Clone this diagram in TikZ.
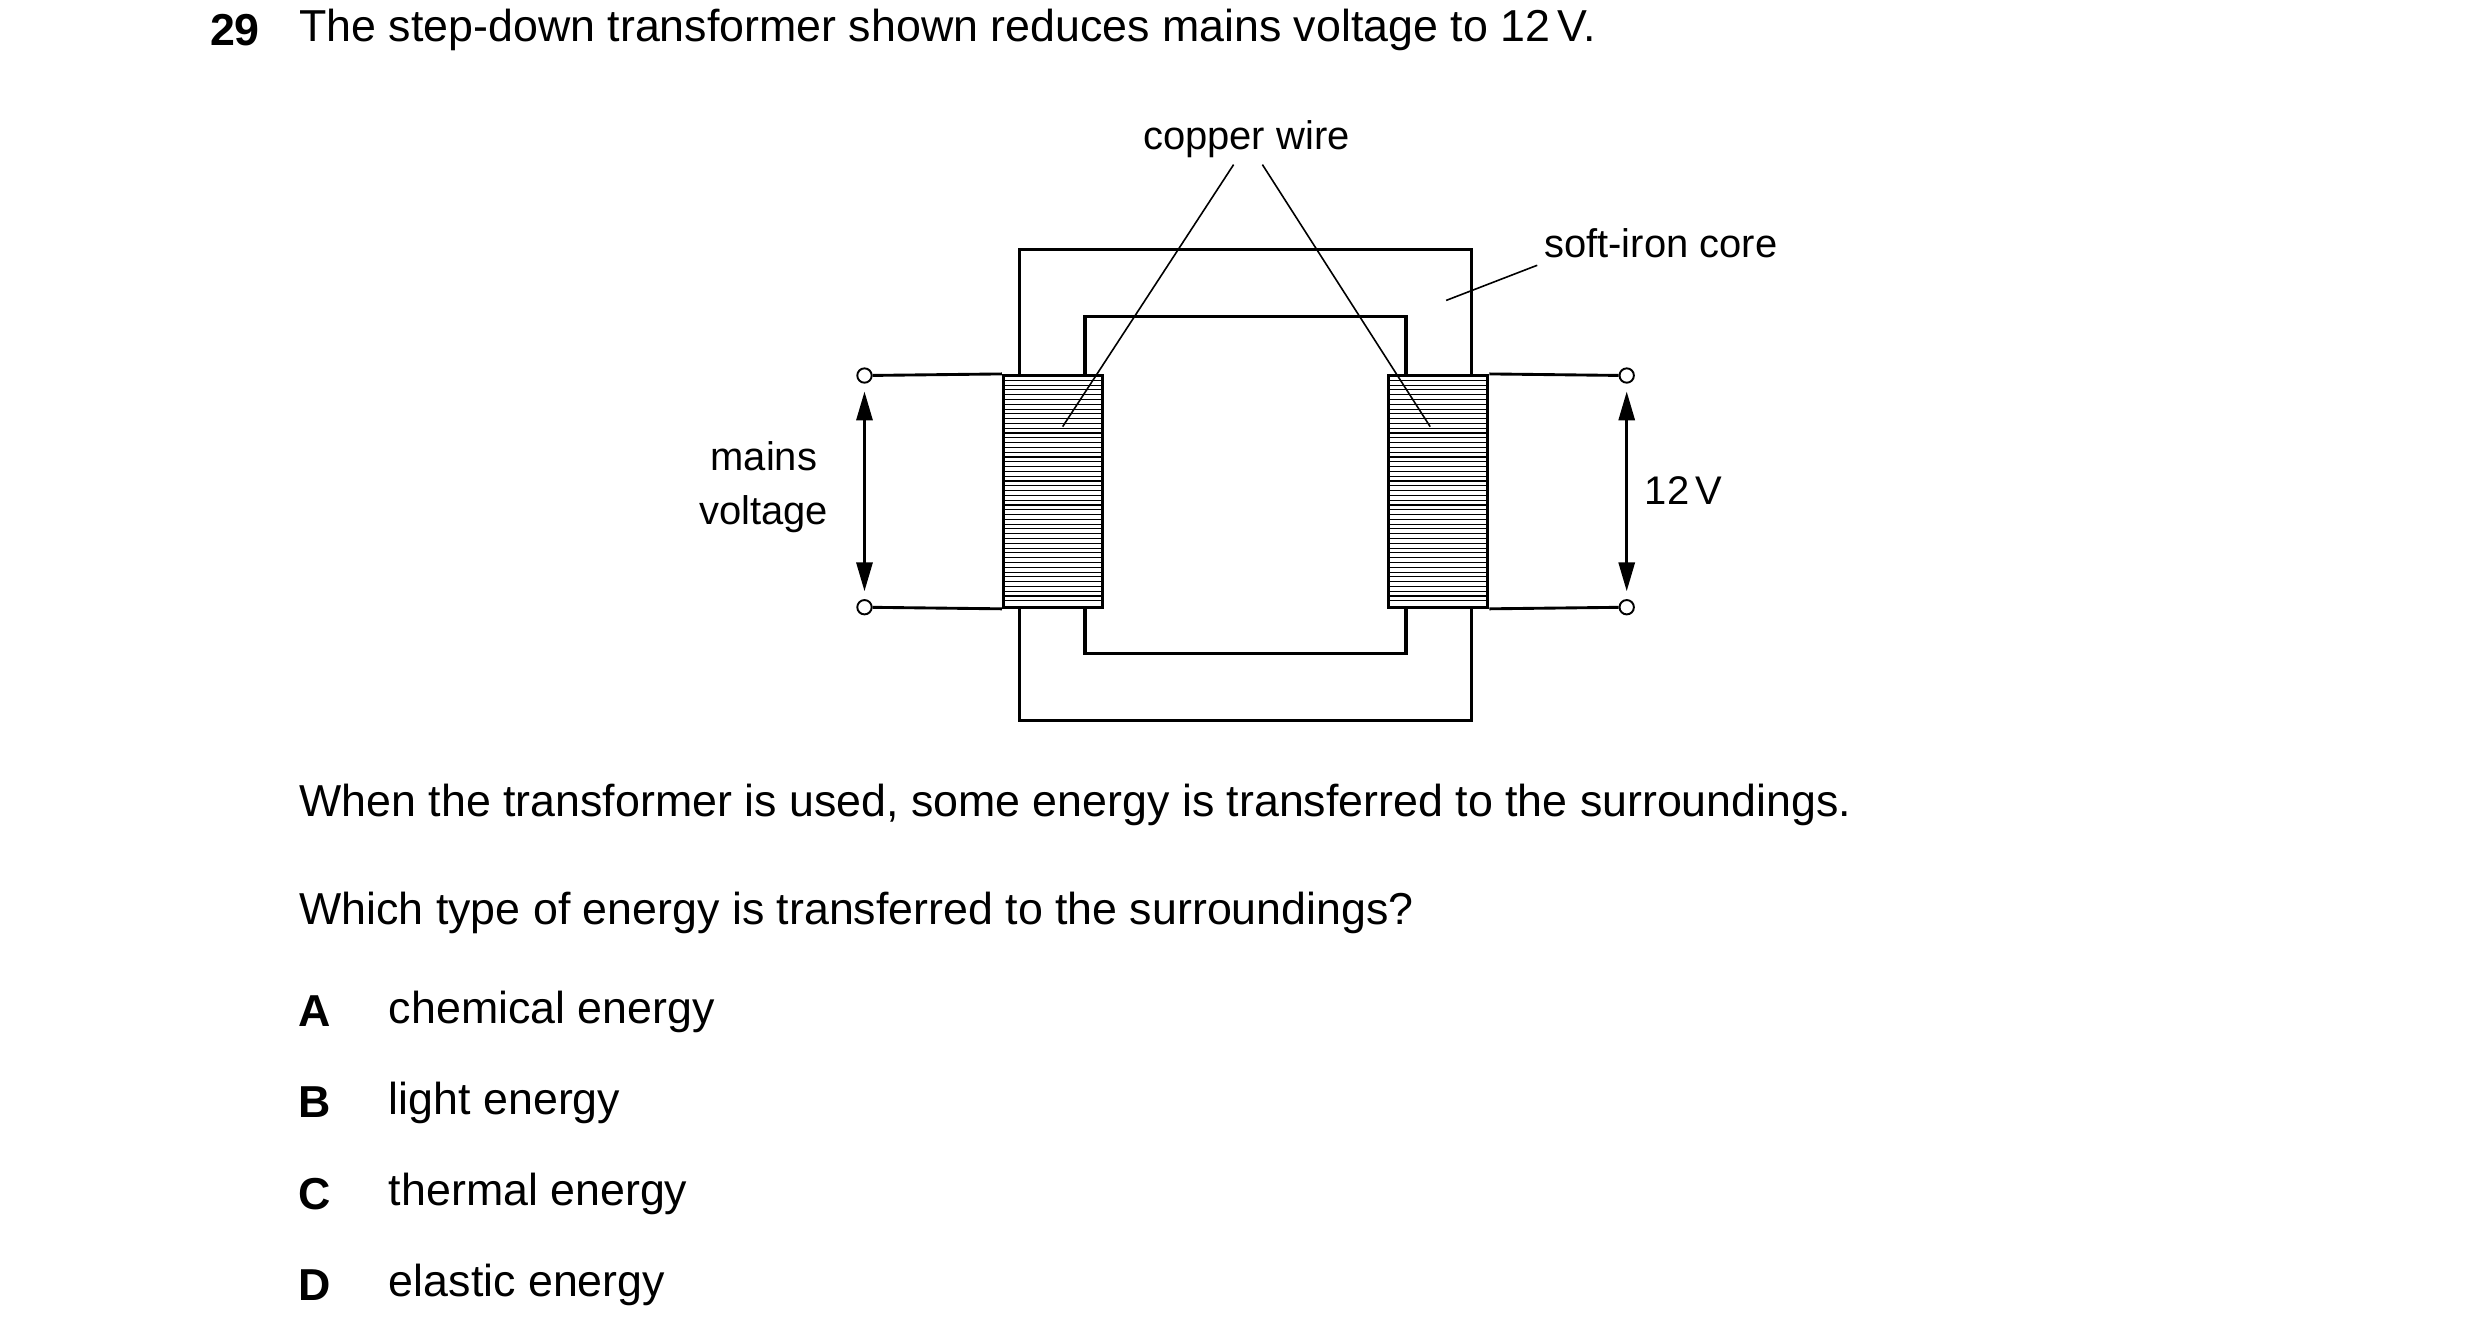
\documentclass[tikz,border=0pt]{standalone}
\usepackage{fontspec}
\setmainfont{Liberation Sans}
\usetikzlibrary{positioning,arrows.meta}
\tikzset{
  txt/.style={inner sep=0pt,font=\fontsize{14pt}{16pt}\selectfont},
  lbl/.style={inner sep=0pt,font=\fontsize{12.5pt}{15pt}\selectfont},
  coil/.style={draw,line width=1pt,minimum width=31pt,minimum height=72.5pt,inner sep=0pt},
  term/.style={circle,draw,line width=0.6pt,fill=white,minimum size=4.5pt,inner sep=0pt},
  wire/.style={line width=0.9pt},
  volt/.style={line width=0.9pt,{Triangle[length=9pt,width=5pt]}-{Triangle[length=9pt,width=5pt]}},
  lead/.style={line width=0.5pt}
}
\begin{document}
\begin{tikzpicture}[x=0.5pt,y=-0.5pt]
\useasboundingbox (0,0) rectangle (1552,836);
% question
\node[txt,anchor=east] (num) at (163,19) {\textbf{29}};
\node[txt,anchor=west] (q) at (187,19) {The step-down transformer shown reduces mains voltage to 12\,V.};
% soft-iron core
\draw[line width=1.1pt] (638,156) rectangle (921,451);
\draw[line width=1.1pt] (679,198) rectangle (880,409);
% coils
\node[coil,fill=white] (lcoil) at (659,307.5) {};
\node[coil,fill=white] (rcoil) at (900,307.5) {};
\foreach \y in {238,241,...,378} {
  \draw[line width=0.35pt] (628,\y) -- (690,\y);
  \draw[line width=0.35pt] (869,\y) -- (931,\y);
}
% terminals
\node[term] (lt) at (541,235) {};
\node[term] (lb) at (541,380) {};
\node[term] (rt) at (1018,235) {};
\node[term] (rb) at (1018,380) {};
\draw[wire] (lt) -- (lcoil.north west);
\draw[wire] (lb) -- (lcoil.south west);
\draw[wire] (rt) -- (rcoil.north east);
\draw[wire] (rb) -- (rcoil.south east);
\coordinate (la1) at (541,245);
\coordinate (la2) at (541,370);
\coordinate (ra1) at (1018,245);
\coordinate (ra2) at (1018,370);
\draw[volt] (la1) -- (la2);
\draw[volt] (ra1) -- (ra2);
% labels
\node[lbl,align=center] (mains) at (478,305) {mains\\[2pt]voltage};
\node[lbl,anchor=west] (twelve) at (1029,307) {12\,V};
\node[lbl] (copper) at (780,87) {copper wire};
\coordinate (lw) at (665,267);
\coordinate (rw) at (895,267);
\draw[lead] (772,103) -- (lw);
\draw[lead] (790,103) -- (rw);
\node[lbl,anchor=west] (iron) at (966,152) {soft-iron core};
\coordinate (ic) at (905,188);
\draw[lead] (962,166) -- (ic);
% text below
\node[txt,anchor=west] (t1) at (187,504) {When the transformer is used, some energy is transferred to the surroundings.};
\node[txt,anchor=west] (t2) at (187,571) {Which type of energy is transferred to the surroundings?};
\foreach \l/\t/\y in {A/chemical energy/633,B/light energy/690,C/thermal energy/747,D/elastic energy/804} {
  \node[txt] (opt\l) at (197,\y) {\textbf{\l}};
  \node[txt,anchor=west] (ans\l) at (243,\y) {\t};
}
\end{tikzpicture}
\end{document}
